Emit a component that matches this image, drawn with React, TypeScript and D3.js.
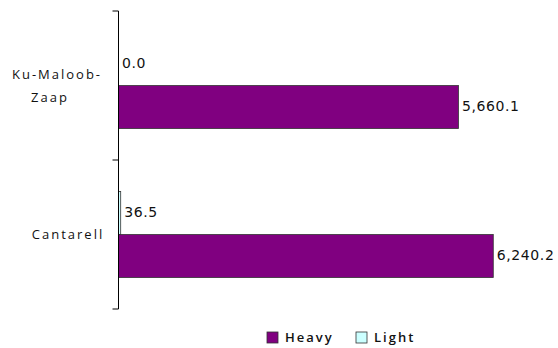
import React from "react";
import * as d3 from "d3";

const categories = ["Ku-Maloob-Zaap", "Cantarell"];
const categoryLines = [["Ku-Maloob-", "Zaap"], ["Cantarell"]];
const seriesNames = ["Heavy", "Light"];
const heavyValues = [5660.1, 6240.2];
const lightValues = [0.0, 36.5];
const seriesColors: Record<string, string> = { Heavy: "#800080", Light: "#CCFFFF" };

const W = 558;
const H = 348;
const axisX = 118.5;
const plotTop = 11;
const plotBottom = 309;
const xMax = 7000;

export default function App() {
  const x = d3.scaleLinear().domain([0, xMax]).range([axisX, axisX + 420.4]);
  const y = d3.scaleBand<string>().domain(categories).range([plotTop, plotBottom]).paddingInner(0).paddingOuter(0);
  const sub = d3
    .scaleBand<string>()
    .domain(["Light", "Heavy"])
    .range([0, y.bandwidth()])
    .paddingInner(0)
    .paddingOuter(0.73);
  const fmt = d3.format(",.1f");

  const rows = categories.map((c, i) => ({
    cat: c,
    lines: categoryLines[i],
    values: { Heavy: heavyValues[i], Light: lightValues[i] } as Record<string, number>,
  }));

  const ticks = [plotTop, ...categories.map((c) => (y(c) as number) + y.bandwidth())];
  const labelFont = "'Open Sans', sans-serif";
  const valueFont = "'DejaVu Sans', sans-serif";

  return (
    <svg width={W} height={H} style={{ position: "absolute", left: 0, top: 0, background: "#fff" }}>
      {rows.map((r) => {
        const y0 = y(r.cat) as number;
        return (
          <g key={r.cat}>
            {(["Light", "Heavy"] as const).map((s) => {
              const by = y0 + (sub(s) as number);
              const v = r.values[s];
              const bw = x(v) - x(0);
              return (
                <g key={s}>
                  {bw > 0 && (
                    <rect
                      x={x(0)}
                      y={by}
                      width={bw}
                      height={sub.bandwidth()}
                      fill={seriesColors[s]}
                      stroke="#333"
                      strokeWidth={0.8}
                    />
                  )}
                  <text
                    x={x(v) + 3.5}
                    y={by + sub.bandwidth() / 2 - 1}
                    dy="0.35em"
                    fontFamily={valueFont}
                    fontSize={14}
                    letterSpacing={0.6}
                    fill="#111"
                  >
                    {fmt(v)}
                  </text>
                </g>
              );
            })}
            {r.lines.map((ln, k) => {
              const cy = y0 + y.bandwidth() / 2;
              const lh = 23;
              const ty = cy - ((r.lines.length - 1) * lh) / 2 + k * lh;
              const cx = r.lines.length > 1 ? 57 - k * 7 : 68;
              return (
                <text
                  key={k}
                  x={cx}
                  y={ty}
                  dy="0.35em"
                  textAnchor="middle"
                  fontFamily={labelFont}
                  fontSize={13}
                  letterSpacing={2}
                  fill="#111"
                >
                  {ln}
                </text>
              );
            })}
          </g>
        );
      })}

      <line x1={axisX} x2={axisX} y1={plotTop} y2={plotBottom} stroke="#000" strokeWidth={1} />
      {ticks.map((t, i) => (
        <line key={i} x1={axisX - 6} x2={axisX} y1={t} y2={t} stroke="#000" strokeWidth={1} />
      ))}

      {seriesNames.map((s, i) => {
        const lx = 267 + i * 89;
        return (
          <g key={s} transform={`translate(${lx},332)`}>
            <rect x={0} y={0} width={11} height={11} fill={seriesColors[s]} stroke="#333" strokeWidth={0.8} />
            <text
              x={18}
              y={5.5}
              dy="0.38em"
              fontFamily={labelFont}
              fontSize={13}
              fontWeight={600}
              letterSpacing={2}
              fill="#111"
            >
              {s}
            </text>
          </g>
        );
      })}
    </svg>
  );
}
